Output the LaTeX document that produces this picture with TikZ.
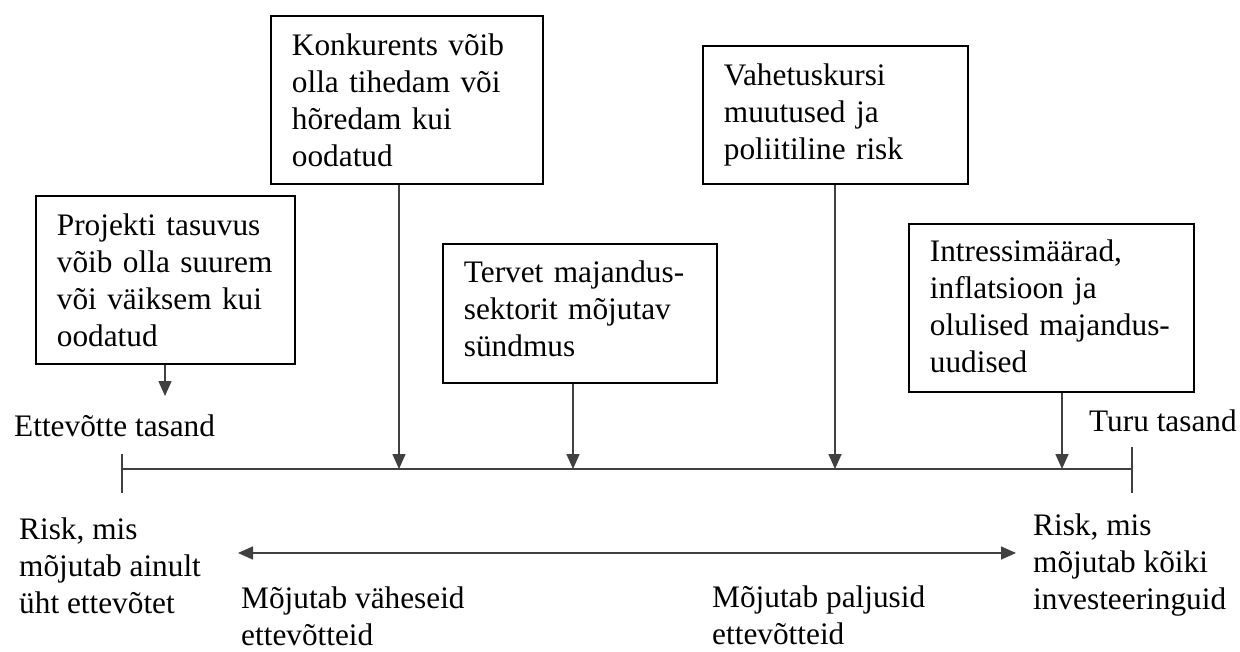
\documentclass[tikz,border=0pt]{standalone}
\usepackage{fontspec}
\setmainfont{Liberation Serif}
\usetikzlibrary{arrows.meta,positioning}

\begin{document}
\begin{tikzpicture}[x=1pt,y=-1pt,
	every node/.style={font=\fontsize{31.3}{37}\selectfont, inner sep=0pt},
	box/.style={draw, line width=1.8pt, anchor=north west, align=left, inner xsep=21pt, inner ysep=0pt},
	lbl/.style={anchor=base west, align=left},
	conn/.style={draw=black!75, line width=1.6pt},
	tip/.style={conn, -{Triangle[length=15pt,width=13pt]}}]
	\useasboundingbox (0,0) rectangle (1240,652);
	\node[box, text width=217pt] (proj) at (35,195) {\rule{0pt}{40pt}Projekti tasuvus\\võib olla suurem\\või väiksem kui\\oodatud\rule[-17pt]{0pt}{0pt}};
	\node[box, text width=230pt] (konk) at (270,15) {\rule{0pt}{40pt}Konkurents võib\\olla tihedam või\\hõredam kui\\oodatud\rule[-17pt]{0pt}{0pt}};
	\node[box, text width=232pt] (tervet) at (442,243) {\rule{0pt}{39pt}Tervet majandus-\\sektorit mõjutav\\sündmus\rule[-26pt]{0pt}{0pt}};
	\node[box, text width=223pt] (vahet) at (702,45) {\rule{0pt}{40pt}Vahetuskursi\\muutused ja\\poliitiline risk\rule[-24pt]{0pt}{0pt}};
	\node[box, text width=243pt] (intr) at (908,223) {\rule{0pt}{38pt}Intressimäärad,\\inflatsioon ja\\olulised majandus-\\uudised\rule[-19pt]{0pt}{0pt}};
	\node[lbl] (ettev) at (14,436) {Ettevõtte tasand};
	\node[lbl] (turu) at (1089,431) {Turu tasand};
	\node[lbl] (riskleft) at (19,613) {Risk, mis\\mõjutab ainult\\üht ettevõtet};
	\node[lbl] (riskright) at (1033,609) {Risk, mis\\mõjutab kõiki\\investeeringuid};
	\node[lbl] (vahe) at (241,645) {Mõjutab väheseid\\ettevõtteid};
	\node[lbl] (palju) at (712,644) {Mõjutab paljusid\\ettevõtteid};
	\coordinate (lt) at (122,469);
	\coordinate (rt) at (1132,469);
	\coordinate (px) at (165,396);
	\coordinate (kx) at (399,469);
	\coordinate (tx) at (573,469);
	\coordinate (vx) at (835,469);
	\coordinate (ix) at (1062,469);
	\coordinate (dl) at (238,553);
	\coordinate (dr) at (1016,553);
	\draw[conn] (lt) -- (rt);
	\draw[conn] (lt) ++(0,-15) -- ++(0,39);
	\draw[conn] (rt) ++(0,-22) -- ++(0,46);
	\draw[tip] (proj.south -| px) -- (px);
	\draw[tip] (konk.south -| kx) -- (kx);
	\draw[tip] (tervet.south -| tx) -- (tx);
	\draw[tip] (vahet.south -| vx) -- (vx);
	\draw[tip] (intr.south -| ix) -- (ix);
	\draw[conn, {Triangle[length=15pt,width=13pt]}-{Triangle[length=15pt,width=13pt]}] (dl) -- (dr);
\end{tikzpicture}
\end{document}
